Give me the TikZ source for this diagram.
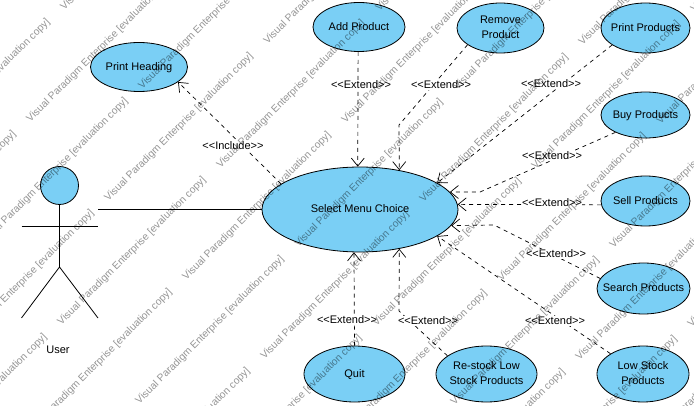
\documentclass[tikz,border=0pt]{standalone}
\usepackage{fontspec}
\setmainfont{Liberation Sans}
\usetikzlibrary{arrows.meta,shapes.geometric}
\definecolor{usecasefill}{RGB}{122,207,245}
\newcommand{\stereotext}[1]{<{}<#1>{}>}
\tikzset{
  usecase/.style={ellipse, draw=black, line width=0.8pt, fill=usecasefill, inner xsep=-20pt, inner ysep=-8pt, align=center, font=\fontsize{11}{15}\selectfont, execute at begin node={\rule[-2.4pt]{0pt}{11.5pt}}},
  stereo/.style={fill=white, inner sep=0.5pt, font=\fontsize{11}{13}\selectfont},
  extend/.style={-{Straight Barb[length=8pt,width=13pt]}, line width=0.7pt, dash pattern=on 4pt off 4pt},
  limb/.style={line width=0.8pt},
  mark text/.style={rotate=45, anchor=base west, text=black, text opacity=0.42, font=\fontsize{10.3}{12}\selectfont}
}
\begin{document}
\begin{tikzpicture}[x=1pt,y=-1pt]
      \useasboundingbox (0,0) rectangle (694,406);
      \node[usecase, minimum width=97pt, minimum height=49pt] at (139,67) (printh) {Print Heading};
      \node[usecase, minimum width=92pt, minimum height=49pt] at (359,27) (add) {Add Product};
      \node[usecase, minimum width=87pt, minimum height=50pt] at (500.5,28) (remove) {Remove\\Product};
      \node[usecase, minimum width=89pt, minimum height=50pt] at (645.5,28) (print) {Print Products};
      \node[usecase, minimum width=89pt, minimum height=46pt] at (645.5,115) (buy) {Buy Products};
      \node[usecase, minimum width=89pt, minimum height=50pt] at (645.5,201) (sell) {Sell Products};
      \node[usecase, minimum width=93pt, minimum height=51pt] at (643.5,288.5) (search) {Search Products};
      \node[usecase, minimum width=92pt, minimum height=56pt] at (643,374) (low) {Low Stock\\Products};
      \node[usecase, minimum width=101pt, minimum height=56pt] at (486.5,374) (restock) {Re-stock Low\\Stock Products};
      \node[usecase, minimum width=101pt, minimum height=56pt] at (354.5,374) (quit) {Quit};
      \node[usecase, minimum width=196pt, minimum height=85pt] at (360,209.5) (select) {Select Menu Choice};
      % actor
      \node[circle, draw=black, line width=0.8pt, fill=usecasefill, minimum size=38pt, inner sep=0pt] at (59.5,185.5) (head) {};
      \coordinate (hip) at (59.5,267);
      \coordinate (handl) at (21.5,226.5);
      \coordinate (handr) at (98,226.5);
      \coordinate (footl) at (21.5,318);
      \coordinate (footr) at (98,318);
      \coordinate (user) at (98,209.5);
      \node[font=\fontsize{11}{13}\selectfont, inner sep=0pt] at (58,350) (username) {User};
      \draw[limb] (head) -- (hip);
      \draw[limb] (handl) -- (handr);
      \draw[limb] (footl) -- (hip) -- (footr);
      \draw[limb] (user) -- (select);
      % bends
      \coordinate (bremove) at (399,125);
      \coordinate (bbuy) at (480,192);
      \coordinate (bsearch) at (494,225);
      \coordinate (brestock) at (399,311);
      % connectors
      \draw[extend] (select.162) -- (printh.-21);
      \draw[extend] (add.268) -- (select.93);
      \draw[extend] (remove.207) -- (bremove) -- (select.45);
      \draw[extend] (print.207) -- (select.19);
      \draw[extend] (buy.210) -- (bbuy) -- (select.11);
      \draw[extend] (sell.185) -- (select.3);
      \draw[extend] (search.167) -- (bsearch) -- (select.-10);
      \draw[extend] (low.148) -- (select.-19);
      \draw[extend] (restock.155) -- (brestock) -- (select.-45);
      \draw[extend] (quit.north) -- (select.-98);
      % labels
      \node[stereo] at (233,146) (linclude) {\stereotext{Include}};
      \node[stereo] at (361,85) (ladd) {\stereotext{Extend}};
      \node[stereo] at (441,85) (lremove) {\stereotext{Extend}};
      \node[stereo] at (551,84) (lprint) {\stereotext{Extend}};
      \node[stereo] at (552,156) (lbuy) {\stereotext{Extend}};
      \node[stereo] at (552,203) (lsell) {\stereotext{Extend}};
      \node[stereo] at (556,254) (lsearch) {\stereotext{Extend}};
      \node[stereo] at (555,321) (llow) {\stereotext{Extend}};
      \node[stereo] at (428,321) (lrestock) {\stereotext{Extend}};
      \node[stereo] at (347,320) (lquit) {\stereotext{Extend}};
      % watermark
      \begin{scope}
      \clip (0,0) rectangle (694,406);
      \foreach \bx/\by/\bn in {28/125/a,140/92/b}
        \foreach \i in {-3,...,3}
          \foreach \j in {-3,...,6} {
            \pgfmathsetmacro{\wx}{\bx+237*\i+78*\j}
            \pgfmathsetmacro{\wy}{\by-78*\i+79*\j}
            \pgfmathtruncatemacro{\keep}{(\wx<694 && \wy>0 && \wx>-150 && \wy<551 && \wx+\wy>0 && \wx+\wy<1100) ? 1 : 0}
            \ifnum\keep=1
              \node[mark text] at (\wx,\wy) (wm\bn\i\j) {Visual Paradigm Enterprise [evaluation copy]};
            \fi
          }
      \end{scope}
\end{tikzpicture}
\end{document}
